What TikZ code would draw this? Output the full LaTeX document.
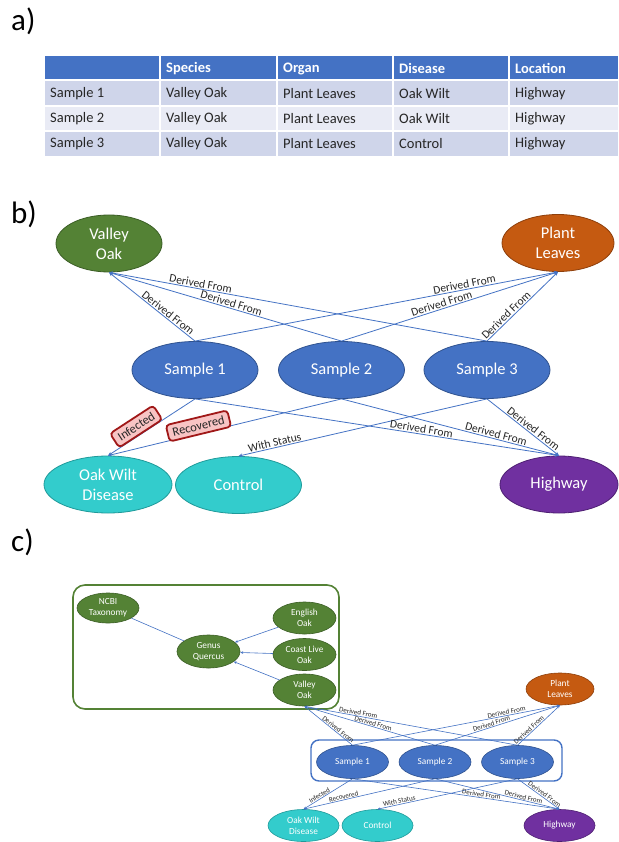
\documentclass[tikz,border=0pt]{standalone}
\usepackage{fontspec}
\setmainfont{Carlito}
\usetikzlibrary{shapes.geometric,arrows.meta}
\definecolor{hblue}{HTML}{4472C4}
\definecolor{hblueD}{HTML}{2F528F}
\definecolor{rowA}{HTML}{CFD5EA}
\definecolor{rowB}{HTML}{E9EBF5}
\definecolor{oakG}{HTML}{548235}
\definecolor{oakGD}{HTML}{3B5E25}
\definecolor{leafO}{HTML}{C55A11}
\definecolor{leafOD}{HTML}{8E3F0B}
\definecolor{tealC}{HTML}{33CCCC}
\definecolor{tealCD}{HTML}{1F9A9A}
\definecolor{purpC}{HTML}{7030A0}
\definecolor{purpCD}{HTML}{4E1F72}
\definecolor{redB}{HTML}{A01818}
\definecolor{pinkF}{HTML}{F8C4C4}
\definecolor{txtD}{HTML}{262626}
\tikzset{
  cell/.style={anchor=west, inner sep=0pt, font=\fontsize{14.5}{17}\selectfont, text=txtD},
  hcell/.style={anchor=west, inner sep=0pt, font=\bfseries\fontsize{14.5}{17}\selectfont, text=white},
  bn/.style={ellipse, inner sep=0pt, align=center, text=white, line width=0.8pt,
    minimum width=126pt, minimum height=57pt, font=\fontsize{16.5}{20}\selectfont},
  cn/.style={ellipse, inner sep=0pt, align=center, text=white, line width=0.6pt,
    minimum width=70pt, minimum height=32pt, font=\fontsize{9.3}{11}\selectfont},
  sampleN/.style={fill=hblue, draw=hblueD},
  oakN/.style={fill=oakG, draw=oakGD},
  leafN/.style={fill=leafO, draw=leafOD},
  tealN/.style={fill=tealC, draw=tealCD},
  purpN/.style={fill=purpC, draw=purpCD},
  bedge/.style={draw=hblue, line width=0.8pt, -{Stealth[length=4pt,width=3.5pt]}},
  bedgeR/.style={draw=hblue, line width=0.8pt, {Stealth[length=4pt,width=3.5pt]}-},
  cedge/.style={draw=hblue, line width=0.6pt, -{Stealth[length=3pt,width=2.6pt]}},
  cedgeR/.style={draw=hblue, line width=0.6pt, {Stealth[length=3pt,width=2.6pt]}-},
  blab/.style={sloped, above, inner sep=1pt, text=txtD, font=\fontsize{11.5}{13}\selectfont},
  clab/.style={sloped, above, inner sep=0.6pt, text=txtD, font=\fontsize{7}{8}\selectfont},
  tagbox/.style={sloped, anchor=center, draw=redB, fill=pinkF, line width=1.8pt, rounded corners=3.5pt,
    inner xsep=5pt, inner ysep=4pt, text=txtD, font=\fontsize{12.5}{14}\selectfont},
  partlab/.style={anchor=west, inner sep=0pt, text=black, font=\fontsize{31}{34}\selectfont}
}
\begin{document}
\begin{tikzpicture}[x=1pt,y=-1pt]
\useasboundingbox (0,0) rectangle (618,842);
\fill[white] (0,0) rectangle (618,842);

% ---------- a) ----------
\node[partlab] (la) at (11,21) {a)};
\fill[hblue] (45,56) rectangle (618,80);
\fill[rowA] (45,80) rectangle (618,106);
\fill[rowB] (45,106) rectangle (618,131);
\fill[rowA] (45,131) rectangle (618,156);
\foreach \y in {80,106,131} \draw[white, line width=1.2pt] (45,\y) -- (618,\y);
\foreach \x in {160,277,393,509} \draw[white, line width=1.2pt] (\x,56) -- (\x,156);
\node[hcell] (h1) at (166,68.5) {Species};
\node[hcell] (h2) at (283,68.5) {Organ};
\node[hcell] (h3) at (399,68.5) {Disease};
\node[hcell] (h4) at (515,68.5) {Location};
\node[cell] (r1a) at (50,93.5) {Sample 1};
\node[cell] (r1b) at (166,93.5) {Valley Oak};
\node[cell] (r1c) at (283,93.5) {Plant Leaves};
\node[cell] (r1d) at (399,93.5) {Oak Wilt};
\node[cell] (r1e) at (515,93.5) {Highway};
\node[cell] (r2a) at (50,119) {Sample 2};
\node[cell] (r2b) at (166,119) {Valley Oak};
\node[cell] (r2c) at (283,119) {Plant Leaves};
\node[cell] (r2d) at (399,119) {Oak Wilt};
\node[cell] (r2e) at (515,119) {Highway};
\node[cell] (r3a) at (50,144) {Sample 3};
\node[cell] (r3b) at (166,144) {Valley Oak};
\node[cell] (r3c) at (283,144) {Plant Leaves};
\node[cell] (r3d) at (399,144) {Control};
\node[cell] (r3e) at (515,144) {Highway};

% ---------- b) ----------
\node[partlab] (lb) at (11,214) {b)};
\node[bn, oakN, minimum width=106pt] (vo) at (109,243.5) {Valley\\Oak};
\node[bn, leafN, minimum width=112pt] (pl) at (558,243) {Plant\\Leaves};
\node[bn, sampleN] (s1) at (195,370) {Sample 1};
\node[bn, sampleN] (s2) at (341.5,370) {Sample 2};
\node[bn, sampleN] (s3) at (487,370) {Sample 3};
\node[bn, tealN, minimum width=128pt] (ow) at (108,484.5) {Oak Wilt\\Disease};
\node[bn, tealN] (ct) at (238.5,485) {Control};
\node[bn, purpN, minimum width=118pt] (hw) at (559,484.5) {Highway};

\draw[bedgeR] (vo.south) -- node[blab, pos=0.65] {Derived From} (s1.north);
\draw[bedgeR] (vo.south) -- node[blab, pos=0.52] {Derived From} (s2.north);
\draw[bedgeR] (vo.south) -- node[blab, pos=0.24] {Derived From} (s3.north);
\draw[bedge] (s1.north) -- node[blab, pos=0.745] {Derived From} (pl.south);
\draw[bedge] (s2.north) -- node[blab, pos=0.47] {Derived From} (pl.south);
\draw[bedge] (s3.north) -- node[blab, pos=0.32] {Derived From} (pl.south);

\draw[bedgeR] (ow.north) -- node[tagbox, pos=0.38, yshift=9pt] {Infected} (s1.south);
\draw[bedgeR] (ow.north) -- node[tagbox, pos=0.395, yshift=7.5pt] {Recovered} (s2.south);
\draw[bedgeR] (ct.north) -- node[blab, pos=0.15] {With Status} (s3.south);
\draw[bedge] (s1.south) -- node[blab, pos=0.62] {Derived From} (hw.north);
\draw[bedge] (s2.south) -- node[blab, pos=0.705] {Derived From} (hw.north);
\draw[bedge] (s3.south) -- node[blab, pos=0.6] {Derived From} (hw.north);

% ---------- c) ----------
\node[partlab] (lc) at (11,542) {c)};
\draw[oakG, line width=1.6pt, rounded corners=12pt] (73,585) rectangle (339,709);
\draw[hblue, line width=1.4pt, rounded corners=8pt] (311,740) rectangle (562,781);

\node[cn, oakN, minimum width=62pt, minimum height=30pt] (ncbi) at (108,608) {NCBI\\Taxonomy};
\node[cn, oakN, minimum width=63pt, minimum height=33pt] (gq) at (208.5,651.5) {Genus\\Quercus};
\node[cn, oakN, minimum width=63pt] (eo) at (304.5,618) {English\\Oak};
\node[cn, oakN, minimum width=63pt] (cl) at (304.5,654.5) {Coast Live\\Oak};
\node[cn, oakN, minimum width=63pt] (vc) at (304.5,690) {Valley\\Oak};
\node[cn, leafN, minimum width=68pt] (plc) at (560,689) {Plant\\Leaves};
\node[cn, sampleN, minimum width=72pt, minimum height=33pt] (s1c) at (352.5,762) {Sample 1};
\node[cn, sampleN, minimum width=72pt, minimum height=33pt] (s2c) at (435,762) {Sample 2};
\node[cn, sampleN, minimum width=72pt, minimum height=33pt] (s3c) at (517.5,762) {Sample 3};
\node[cn, tealN, minimum width=71pt] (owc) at (303.5,825.5) {Oak Wilt\\Disease};
\node[cn, tealN, minimum width=71pt] (ctc) at (377.5,825.5) {Control};
\node[cn, purpN, minimum width=71pt] (hwc) at (559.5,825.5) {Highway};

\draw[draw=hblue, line width=0.6pt] (ncbi) -- (gq);
\draw[cedge] (eo) -- (gq);
\draw[cedge] (cl) -- (gq);
\draw[cedge] (vc) -- (gq);

\draw[cedgeR] (vc.south) -- node[clab, pos=0.66] {Derived From} (s1c.north);
\draw[cedgeR] (vc.south) -- node[clab, pos=0.52] {Derived From} (s2c.north);
\draw[cedgeR] (vc.south) -- node[clab, pos=0.25] {Derived From} (s3c.north);
\draw[cedge] (s1c.north) -- node[clab, pos=0.745] {Derived From} (plc.south);
\draw[cedge] (s2c.north) -- node[clab, pos=0.46] {Derived From} (plc.south);
\draw[cedge] (s3c.north) -- node[clab, pos=0.32] {Derived From} (plc.south);

\draw[cedgeR] (owc.north) -- node[clab, pos=0.36] {Infected} (s1c.south);
\draw[cedgeR] (owc.north) -- node[clab, pos=0.31] {Recovered} (s2c.south);
\draw[cedgeR] (ctc.north) -- node[clab, pos=0.16] {With Status} (s3c.south);
\draw[cedge] (s1c.south) -- node[clab, pos=0.62] {Derived From} (hwc.north);
\draw[cedge] (s2c.south) -- node[clab, pos=0.705] {Derived From} (hwc.north);
\draw[cedge] (s3c.south) -- node[clab, pos=0.6] {Derived From} (hwc.north);
\end{tikzpicture}
\end{document}
